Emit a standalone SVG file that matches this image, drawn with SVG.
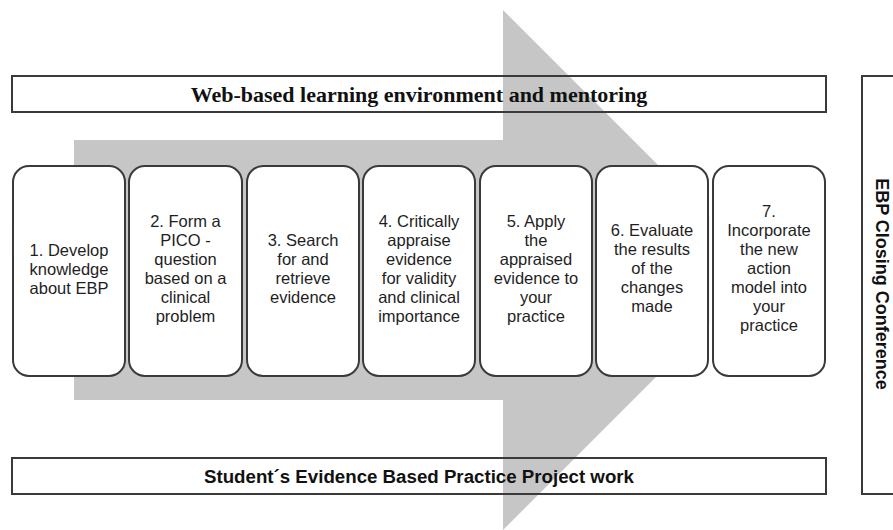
<svg xmlns="http://www.w3.org/2000/svg" width="893" height="530" viewBox="0 0 893 530">
<style>
.bg{fill:#ffffff}
.arrow{fill:#c6c6c6}
.banner{fill:none;stroke:#3a3a3a;stroke-width:2}
.halo{fill:#ffffff}
.step rect.box{fill:#ffffff;stroke:#3a3a3a;stroke-width:2}
.step text{font-family:"Liberation Sans",Arial,sans-serif;font-size:16.5px;fill:#1e1e1e;text-anchor:middle}
.serif{font-family:"Liberation Serif","Times New Roman",serif;font-weight:bold;font-size:22px;fill:#111;text-anchor:middle}
.sansb{font-family:"Liberation Sans",Arial,sans-serif;font-weight:bold;font-size:18px;fill:#111;text-anchor:middle}
.sansb2{font-family:"Liberation Sans",Arial,sans-serif;font-weight:bold;font-size:18.7px;fill:#111;text-anchor:middle}
</style>
<rect class="bg" x="0" y="0" width="893" height="530"/>
<g id="arrow">
<polygon class="arrow" points="74,140 503,140 503,10 763,270 503,530 503,400 74,400"/>
</g>
<g id="web-banner">
<rect class="banner" x="12" y="76" width="814" height="36"/>
<text class="serif" x="419" y="102">Web-based learning environment and mentoring</text>
</g>
<g id="project-banner">
<rect class="banner" x="12" y="458" width="814" height="36"/>
<text class="sansb2" x="419" y="482.5">Student´s Evidence Based Practice Project work</text>
</g>
<g id="closing-conference">
<rect class="banner" x="862" y="76" width="40" height="418"/>
<text class="sansb" transform="translate(876,284) rotate(90)" x="0" y="0">EBP Closing Conference</text>
</g>
<g id="step1" class="step">
<rect class="box" x="13" y="166" width="112" height="210" rx="16"/>
<text x="69" y="256">1. Develop</text>
<text x="69" y="275">knowledge</text>
<text x="69" y="294">about EBP</text>
</g>
<g id="step2" class="step">
<rect class="box" x="129" y="166" width="113" height="210" rx="16"/>
<text x="185.5" y="226.5">2. Form a</text>
<text x="185.5" y="245.5">PICO -</text>
<text x="185.5" y="264.5">question</text>
<text x="185.5" y="283.5">based on a</text>
<text x="185.5" y="302.5">clinical</text>
<text x="185.5" y="321.5">problem</text>
</g>
<g id="step3" class="step">
<rect class="box" x="247" y="166" width="112" height="210" rx="16"/>
<text x="303" y="246">3. Search</text>
<text x="303" y="265">for and</text>
<text x="303" y="284">retrieve</text>
<text x="303" y="303">evidence</text>
</g>
<g id="step4" class="step">
<rect class="box" x="363" y="166" width="112" height="210" rx="16"/>
<text x="419" y="226.5">4. Critically</text>
<text x="419" y="245.5">appraise</text>
<text x="419" y="264.5">evidence</text>
<text x="419" y="283.5">for validity</text>
<text x="419" y="302.5">and clinical</text>
<text x="419" y="321.5">importance</text>
</g>
<g id="step5" class="step">
<rect class="box" x="480" y="166" width="112" height="210" rx="16"/>
<text x="536" y="226.5">5. Apply</text>
<text x="536" y="245.5">the</text>
<text x="536" y="264.5">appraised</text>
<text x="536" y="283.5">evidence to</text>
<text x="536" y="302.5">your</text>
<text x="536" y="321.5">practice</text>
</g>
<g id="step6" class="step">
<rect class="box" x="596" y="166" width="112" height="210" rx="16"/>
<text x="652" y="236">6. Evaluate</text>
<text x="652" y="255">the results</text>
<text x="652" y="274">of the</text>
<text x="652" y="293">changes</text>
<text x="652" y="312">made</text>
</g>
<g id="step7" class="step">
<rect class="halo" x="709.2" y="190" width="8" height="162"/>
<rect class="box" x="713" y="166" width="112" height="210" rx="16"/>
<text x="769" y="217">7.</text>
<text x="769" y="236">Incorporate</text>
<text x="769" y="255">the new</text>
<text x="769" y="274">action</text>
<text x="769" y="293">model into</text>
<text x="769" y="312">your</text>
<text x="769" y="331">practice</text>
</g>
<g id="connectors"></g>
</svg>
